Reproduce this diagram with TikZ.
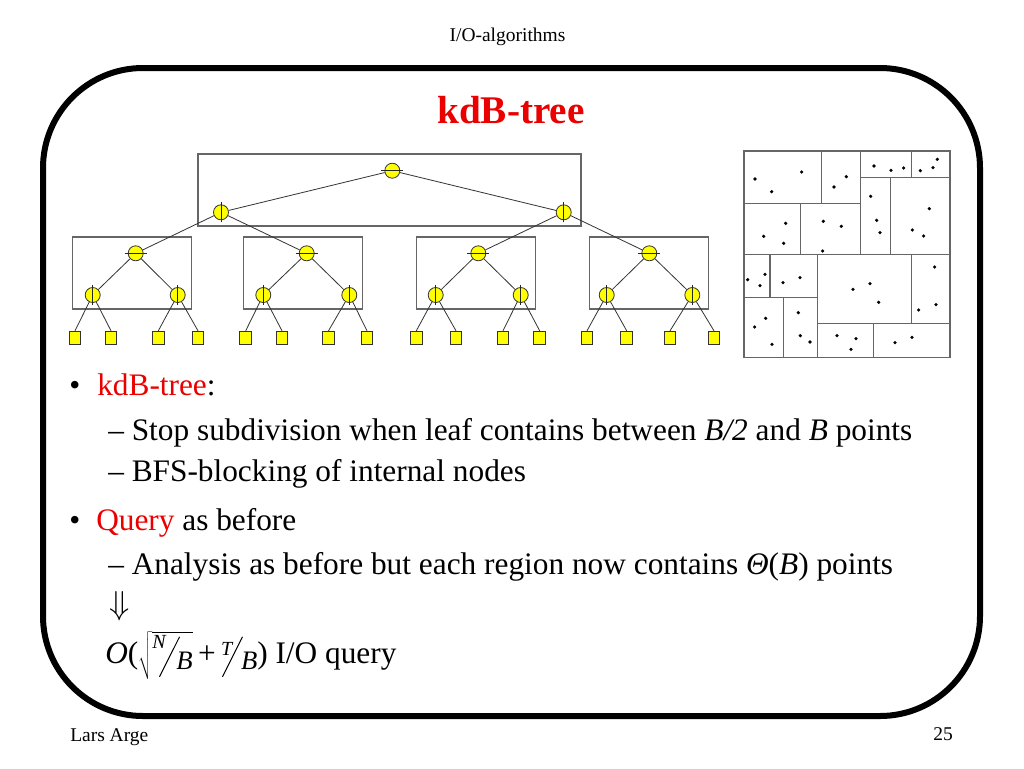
\documentclass[tikz,border=0pt]{standalone}
\usepackage{fontspec}
\usepackage{graphicx}
\setmainfont{Liberation Serif}
\definecolor{kred}{RGB}{235,0,0}
\definecolor{kyel}{RGB}{255,255,0}
% #1 numerator, #2 denominator, #3 kern before slash, #4 kern after slash, #5 raise of numerator
\newcommand\slf[5]{\rlap{\raisebox{#5}{\fontsize{15}{15}\selectfont\textit{#1}}}\kern#3\rlap{\raisebox{-10.5pt}{\rotatebox{63.4}{\rule{33.5pt}{0.75pt}}}}\kern#4\raisebox{-5pt}{\fontsize{20}{20}\selectfont\textit{#2}}}
\begin{document}
\begin{tikzpicture}[x=0.75pt,y=-0.75pt,
  inode/.style={circle,draw=black!80,fill=kyel,minimum size=11.25pt,inner sep=0pt,line width=0.6pt},
  leaf/.style={rectangle,draw=black!80,fill=kyel,minimum width=8.8pt,minimum height=9.75pt,inner sep=0pt,line width=0.6pt},
  blockbox/.style={rectangle,draw=black!60,line width=0.9pt,inner sep=0pt},
  edge/.style={draw=black!80,line width=0.6pt},
  splitln/.style={draw=black!85,line width=0.6pt},
  region/.style={draw=black!60,line width=0.8pt},
  dotpt/.style={fill=black},
  frame/.style={draw=black,line width=4.5pt,rounded corners=75pt},
  body/.style={anchor=base west,inner sep=0pt,font=\fontsize{23.5}{28}\selectfont},
  small/.style={inner sep=0pt,font=\fontsize{14.6}{17}\selectfont},
  ttl/.style={anchor=base,inner sep=0pt,text=kred,font=\fontsize{29.4}{34}\selectfont\bfseries}]
\useasboundingbox (0,0) rectangle (1024,768);
\fill[white] (0,0) rectangle (1024,768);
% header and footer
\node[small,anchor=base] (hdr) at (507.5,41) {I/O-algorithms};
\node[small,anchor=base west] (auth) at (70,741) {Lars Arge};
\node[small,anchor=base east] (pg) at (953,740) {25};
% frame
\draw[frame] (43,68) rectangle (980,716);
% title
\node[ttl] (title) at (511,123) {kdB-tree};
% tree
\node[blockbox,minimum width=287.25pt,minimum height=54pt] (B0) at (389.5,190) {};
\node[inode] (r) at (392.3,170.7) {};
\node[inode] (a) at (221,212.3) {};
\node[inode] (b) at (563.7,212.3) {};
\foreach \i/\bx/\rx/\ax/\cx/\pa/\pb/\pc/\pd in {
 1/132.05/135.7/92.7/177.7/75/111/158.3/198,
 2/303.05/306.7/263.3/349.3/245.7/282/328.5/367,
 3/476.05/478.3/435.7/520.7/416.3/456/503/539.7,
 4/649.05/649.3/606.7/692.3/587/626.7/670/714}{
  \node[blockbox,minimum width=89.6pt,minimum height=54pt] (B\i) at (\bx,273) {};
  \node[inode] (s\i) at (\rx,253.3) {};
  \node[inode] (sl\i) at (\ax,295) {};
  \node[inode] (sr\i) at (\cx,295) {};
  \node[leaf] (la\i) at (\pa,337.7) {};
  \node[leaf] (lb\i) at (\pb,337.7) {};
  \node[leaf] (lc\i) at (\pc,337.7) {};
  \node[leaf] (ld\i) at (\pd,337.7) {};
  \draw[edge] (s\i) -- (sl\i);
  \draw[edge] (s\i) -- (sr\i);
  \draw[edge] (sl\i) -- (la\i.north);
  \draw[edge] (sl\i) -- (lb\i.north);
  \draw[edge] (sr\i) -- (lc\i.north);
  \draw[edge] (sr\i) -- (ld\i.north);
  \draw[splitln] ([xshift=-8.25pt]s\i.center) -- ([xshift=8.25pt]s\i.center);
  \draw[splitln] ([yshift=-7.5pt]sl\i.center) -- ([yshift=7.5pt]sl\i.center);
  \draw[splitln] ([yshift=-7.5pt]sr\i.center) -- ([yshift=7.5pt]sr\i.center);
}
\draw[edge] (r) -- (a);
\draw[edge] (r) -- (b);
\draw[edge] (a) -- (s1);
\draw[edge] (a) -- (s2);
\draw[edge] (b) -- (s3);
\draw[edge] (b) -- (s4);
\draw[splitln] ([xshift=-8.25pt]r.center) -- ([xshift=8.25pt]r.center);
\draw[splitln] ([yshift=-7.5pt]a.center) -- ([yshift=7.5pt]a.center);
\draw[splitln] ([yshift=-7.5pt]b.center) -- ([yshift=7.5pt]b.center);
% subdivision
\begin{scope}[shift={(735,145)},x=0.25pt,y=-0.25pt]
  \draw[region] (27,18) rectangle (645,637);
  \draw[region] (27,175) -- (376,175);
  \draw[region] (260,18) -- (260,175);
  \draw[region] (376,18) -- (376,328);
  \draw[region] (376,97) -- (645,97);
  \draw[region] (530,18) -- (530,97);
  \draw[region] (196,175) -- (196,328);
  \draw[region] (466,97) -- (466,328);
  \draw[region] (27,328) -- (645,328);
  \draw[region] (105,328) -- (105,458);
  \draw[region] (27,458) -- (247,458);
  \draw[region] (247,328) -- (247,637);
  \draw[region] (145,458) -- (145,637);
  \draw[region] (530,328) -- (530,535);
  \draw[region] (247,535) -- (645,535);
  \draw[region] (415,535) -- (415,637);
  \foreach \p in {(60,102),(110,140),(200,81),(297,126),(334,95),(417,63),(468,76),(506,69),
    (556,77),(594,68),(607,43),(86,274),(152,235),(146,295),(265,229),(319,244),(263,318),
    (407,154),(425,226),(435,263),(583,191),(532,255),(566,273),(38,404),(75,422),(90,388),
    (144,413),(195,398),(354,433),(405,416),(431,472),(599,366),(551,495),(603,479),
    (59,546),(92,520),(111,598),(190,503),(196,572),(225,591),(306,572),(363,581),(348,613),
    (480,593),(531,577)}
    \fill[dotpt] \p circle (1.35pt);
\end{scope}
% text
\node[body] (b1) at (69,395) {•};
\node[body] (t1) at (97,395) {\textcolor{kred}{kdB-tree}:};
\node[body] (t2) at (108,440) {– Stop subdivision when leaf contains between \textit{B/2} and \textit{B} points};
\node[body] (t3) at (108,481) {– BFS-blocking of internal nodes};
\node[body] (b2) at (69,530) {•};
\node[body] (t4) at (96,530) {\textcolor{kred}{Query} as before};
\node[body] (t5) at (108,574) {– Analysis as before but each region now contains \textit{Θ}(\textit{B}) points};
\node[body] (t6) at (109,614) {$\Downarrow$};
\node[body] (t7) at (105,663) {\textit{O}($\sqrt{\hbox{\slf{N}{B}{5pt}{13pt}{11pt}}}$\kern4pt+\kern4pt\slf{T}{B}{0.75pt}{14.25pt}{6pt}) I/O query};
\end{tikzpicture}
\end{document}
